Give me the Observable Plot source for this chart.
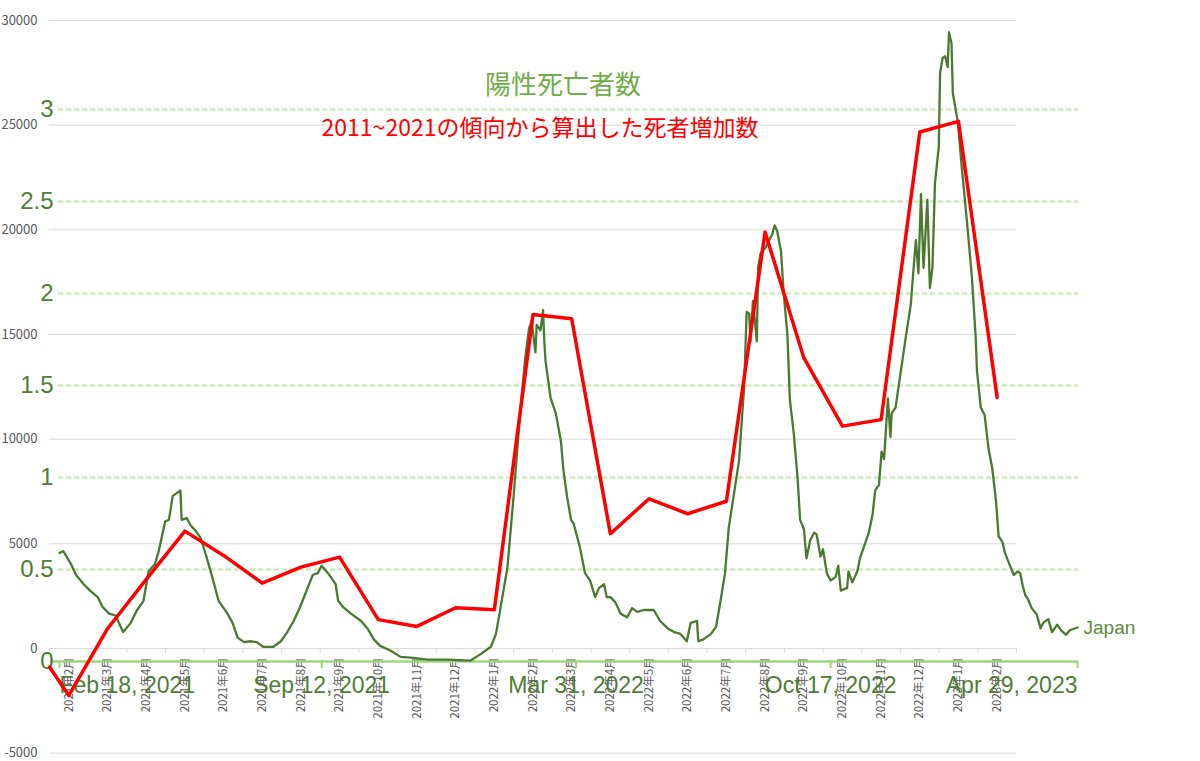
<!DOCTYPE html>
<html><head><meta charset="utf-8">
<script src="https://cdn.jsdelivr.net/npm/d3@7"></script>
<script src="https://cdn.jsdelivr.net/npm/@observablehq/plot@0.6"></script>
<style>
body{margin:0;background:#fff;}
#wrap{position:relative;width:1200px;height:761px;overflow:hidden;background:#fff;}
#wrap svg{position:absolute;left:0;top:0;}
.t{position:absolute;white-space:nowrap;transform:translate(-50%,-50%);font-family:"Noto Sans CJK JP",sans-serif;z-index:5;line-height:1;}
</style></head><body>
<div id="wrap">
<div class="t" style="left:563px;top:83px;font-size:26px;color:#70ad47;">陽性死亡者数</div>
<div class="t" style="left:540px;top:126px;font-size:23px;color:#ff0000;">2011~2021の傾向から算出した死者増加数</div>
</div>
<script>
// ---- Monthly categories (gray axis) ----
const months = ["2021年2月","2021年3月","2021年4月","2021年5月","2021年6月","2021年7月","2021年8月","2021年9月","2021年10月","2021年11月","2021年12月",
  "2022年1月","2022年2月","2022年3月","2022年4月","2022年5月","2022年6月","2022年7月","2022年8月","2022年9月","2022年10月","2022年11月","2022年12月",
  "2023年1月","2023年2月"];
// Excess deaths vs 2011~2021 trend (red line), one per month
const excessDeaths = [-2246, 941, 3300, 5604, 4443, 3120, 3885, 4362, 1376, 1051, 1944,
  1849, 15956, 15750, 5479, 7151, 6435, 7032, 19891, 13890, 10621, 10932, 24673,
  25180, 11993];
// value where the red line enters at the left edge of the axis
const excessStart = -890;
const grayTicks = [-5000, 0, 5000, 10000, 15000, 20000, 25000, 30000];

// ---- Daily positive deaths per million (green line) ----
const greenTicks = [0, 0.5, 1, 1.5, 2, 2.5, 3];
const dateTickLabels = ["2021-02-18", "2021-09-12", "2022-03-31", "2022-10-17", "2023-04-29"];
const seriesStart = "2021-02-18";
const japanDays = [0,3,9,13,19,24,30,34,39,44,48,50,56,61,66,70,75,78,83,86,89,91,95,96,100,103,107,111,115,120,125,132,136,140,145,150,155,160,168,174,179,184,189,195,199,203,206,211,217,219,223,229,237,242,247,252,260,268,278,289,305,323,331,339,343,347,352,357,362,366,369,371,374,375,378,380,381,382,386,390,394,396,399,402,404,409,413,417,421,424,428,430,433,437,441,446,450,454,459,467,472,478,483,488,493,496,501,502,506,512,516,519,523,526,530,534,538,540,542,543,545,548,549,551,555,557,560,562,564,567,569,572,574,577,580,582,585,587,590,593,595,598,600,603,606,610,612,614,619,620,623,627,629,632,636,639,641,644,646,648,651,653,654,657,661,665,669,671,673,675,677,679,680,682,684,686,688,691,692,694,696,698,699,701,702,706,709,713,717,720,721,724,727,730,733,736,738,741,743,747,750,753,755,757,759,761,764,768,771,773,777,780,784,787,791,794,800];
const japanValues = [0.59,0.60,0.53,0.47,0.42,0.385,0.35,0.295,0.26,0.25,0.19,0.16,0.21,0.28,0.33,0.49,0.53,0.60,0.76,0.77,0.90,0.91,0.93,0.77,0.78,0.74,0.71,0.67,0.58,0.46,0.33,0.26,0.21,0.13,0.105,0.11,0.105,0.08,0.08,0.11,0.16,0.22,0.295,0.40,0.47,0.48,0.52,0.48,0.42,0.33,0.295,0.26,0.22,0.18,0.12,0.085,0.06,0.025,0.02,0.01,0.01,0.005,0.04,0.08,0.15,0.31,0.51,0.91,1.35,1.65,1.81,1.85,1.68,1.83,1.80,1.91,1.74,1.63,1.43,1.35,1.20,1.04,0.89,0.77,0.75,0.62,0.48,0.44,0.35,0.40,0.42,0.35,0.35,0.32,0.26,0.24,0.29,0.27,0.28,0.28,0.22,0.18,0.16,0.15,0.11,0.21,0.22,0.11,0.12,0.15,0.19,0.31,0.48,0.73,0.91,1.09,1.49,1.90,1.89,1.74,1.96,1.74,2.14,2.22,2.25,2.28,2.32,2.37,2.34,2.23,2.01,1.78,1.42,1.24,1.00,0.77,0.72,0.56,0.66,0.70,0.69,0.57,0.61,0.48,0.44,0.46,0.52,0.385,0.40,0.49,0.43,0.49,0.56,0.62,0.70,0.80,0.93,0.96,1.14,1.10,1.43,1.22,1.35,1.38,1.57,1.76,1.94,2.12,2.29,2.11,2.54,2.14,2.26,2.51,2.03,2.14,2.60,2.80,3.20,3.28,3.29,3.23,3.42,3.36,3.09,2.93,2.69,2.40,2.09,1.76,1.58,1.38,1.34,1.16,1.05,0.87,0.68,0.65,0.59,0.52,0.47,0.49,0.48,0.41,0.36,0.34,0.29,0.255,0.18,0.21,0.23,0.16,0.20,0.17,0.145,0.17,0.185];
const seriesName = "Japan";

// ---- build ----
const W = 1200, H = 761;
const wrap = document.getElementById("wrap");
const parse = d3.utcParse("%Y-%m-%d");
const t0 = parse(seriesStart);
const japan = japanDays.map((d, i) => ({date: d3.utcDay.offset(t0, d), v: japanValues[i]}));
const dateTicks = dateTickLabels.map(parse);
const fmt = d3.utcFormat("%b %-d, %Y");
const greenDark = "#4e7d34";

const grayFrame = {
  width: W, height: H, marginLeft: 49, marginRight: 184, marginTop: 20, marginBottom: 8.4,
  x: {type: "linear", domain: [-0.5, months.length - 0.5], axis: null},
  y: {domain: [-5000, 30000], axis: null}
};

// Layer A: gray grid + labels
const layerA = Plot.plot({
  ...grayFrame,
  style: {background: "transparent", fontFamily: "'Noto Sans CJK JP', sans-serif"},
  marks: [
    Plot.gridY(grayTicks, {stroke: "#d9d9d9", strokeOpacity: 1, strokeWidth: 1}),
    Plot.ruleX(d3.range(months.length + 1).map(k => k - 0.5), {y1: 0, y2: 0, insetBottom: -5, stroke: "#d9d9d9"}),
    Plot.axisY(grayTicks, {label: null, tickSize: 0, tickPadding: 12, tickFormat: d => String(d), fontSize: 13, color: "#595959"}),
    Plot.text(months, {x: (d, i) => i, y: 0, text: d => d, rotate: -90, textAnchor: "end", dy: 9, fontSize: 11.5, fill: "#595959"})
  ]
});

// Layer B: green (daily deaths per million)
const layerB = Plot.plot({
  width: W, height: H, marginLeft: 59, marginRight: 123, marginTop: 109, marginBottom: 100,
  style: {background: "transparent", fontFamily: "'Liberation Sans', Arial, sans-serif"},
  x: {type: "utc", domain: [t0, dateTicks[dateTicks.length - 1]], axis: null},
  y: {domain: [0, 3], axis: null},
  marks: [
    Plot.ruleY(greenTicks.filter(d => d > 0), {stroke: "#c8f0b4", strokeWidth: 2.5, strokeDasharray: "5,3", insetLeft: -1, insetRight: -1}),
    Plot.ruleY([0], {stroke: "#9fd47f", strokeWidth: 2.5, insetLeft: -9, insetRight: -1}),
    Plot.ruleX(dateTicks, {x: d => d, y1: 0, y2: 0, insetBottom: -7, stroke: "#9fd47f", strokeWidth: 2}),
    Plot.axisY(greenTicks, {label: null, tickSize: 0, tickPadding: 6, tickFormat: d => String(d), fontSize: 24, color: greenDark}),
    Plot.text(dateTicks.slice(0, 1), {x: d => d, y: 0, text: fmt, textAnchor: "start", dy: 24, fontSize: 23, fill: greenDark}),
    Plot.text(dateTicks.slice(1, -1), {x: d => d, y: 0, text: fmt, textAnchor: "middle", dy: 24, fontSize: 23, fill: greenDark}),
    Plot.text(dateTicks.slice(-1), {x: d => d, y: 0, text: fmt, textAnchor: "end", dy: 24, fontSize: 23, fill: greenDark}),
    Plot.line(japan, {x: "date", y: "v", stroke: "#4a7a30", strokeWidth: 2.3}),
    Plot.text(japan.slice(-1), {x: "date", y: "v", text: () => seriesName, textAnchor: "start", dx: 6, fontSize: 19, fill: "#5b8b3d"})
  ]
});

// Layer C: red monthly excess deaths
const redData = [{i: -0.5, v: excessStart}, ...excessDeaths.map((v, i) => ({i, v}))];
const layerC = Plot.plot({
  ...grayFrame,
  style: {background: "transparent"},
  marks: [
    Plot.line(redData, {x: "i", y: "v", stroke: "#ff0000", strokeWidth: 3.5})
  ]
});

wrap.prepend(layerC);
wrap.prepend(layerB);
wrap.prepend(layerA);
</script>
</body></html>
